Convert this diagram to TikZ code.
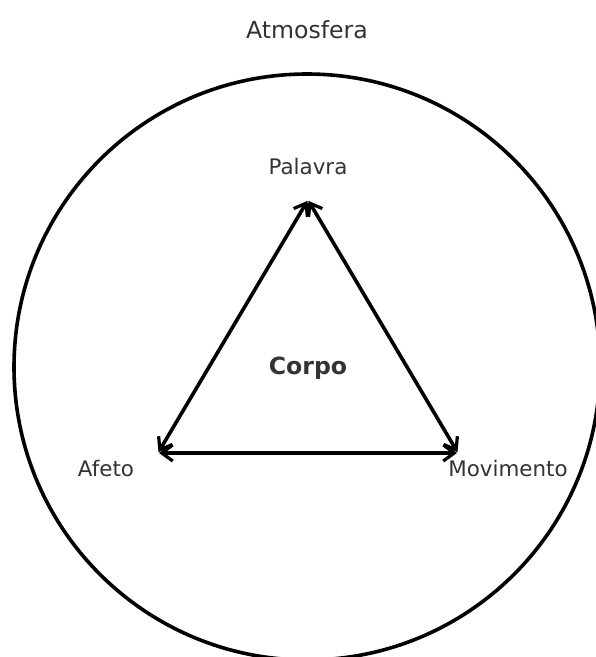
\documentclass[tikz,border=0pt]{standalone}
\usepackage{fontspec}
\setmainfont{DejaVu Sans}
\usetikzlibrary{arrows.meta}
\definecolor{txt}{HTML}{333333}
\begin{document}
\begin{tikzpicture}[x=1pt,y=-1pt,
  lbl/.style={text=txt,font=\fontsize{21.4}{26}\selectfont,inner sep=0pt},
  big/.style={text=txt,font=\fontsize{23.6}{28}\selectfont,inner sep=0pt},
  link/.style={line width=3.6pt,{Straight Barb[length=11pt,width=16pt,line width=3.2pt]}-{Straight Barb[length=11pt,width=16pt,line width=3.2pt]},shorten <=1pt,shorten >=1pt}]
\useasboundingbox (0,0) rectangle (596,657);
\begin{scope}
\clip (0,0) rectangle (596,657);
\draw[line width=3.6pt] (307,367) circle (293);
\end{scope}
\node[big] (atm) at (307,30) {Atmosfera};
\node[lbl] (pal) at (308,167) {Palavra};
\node[lbl] (afe) at (106,469) {Afeto};
\node[lbl] (mov) at (508,469) {Movimento};
\node[big,font=\fontsize{23.6}{28}\selectfont\bfseries] (cor) at (308,368) {Corpo};
\coordinate (T) at (308,200);
\coordinate (L) at (158,453);
\coordinate (R) at (458,453);
\draw[link] (T) -- (L);
\draw[link] (L) -- (R);
\draw[link] (R) -- (T);
\end{tikzpicture}
\end{document}
